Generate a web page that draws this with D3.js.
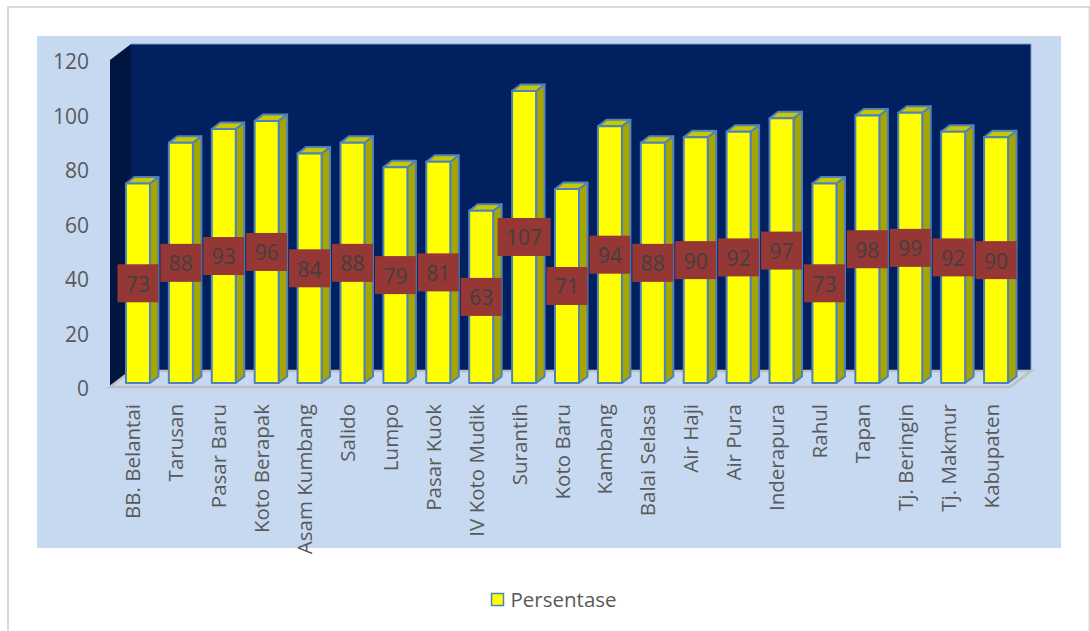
<!DOCTYPE html>
<html>
<head>
<meta charset="utf-8">
<script src="https://cdn.jsdelivr.net/npm/d3@7"></script>
<style>
  html, body { margin: 0; padding: 0; background: #fff; }
  svg { display: block; font-family: "Open Sans", sans-serif; }
</style>
</head>
<body>
<div id="chart"></div>
<script>
const categories = ["BB. Belantai", "Tarusan", "Pasar Baru", "Koto Berapak", "Asam Kumbang", "Salido", "Lumpo", "Pasar Kuok", "IV Koto Mudik", "Surantih", "Koto Baru", "Kambang", "Balai Selasa", "Air Haji", "Air Pura", "Inderapura", "Rahul", "Tapan", "Tj. Beringin", "Tj. Makmur", "Kabupaten"]
const persentase = [73, 88, 93, 96, 84, 88, 79, 81, 63, 107, 71, 94, 88, 90, 92, 97, 73, 98, 99, 92, 90]
const yTicks = [0, 20, 40, 60, 80, 100, 120]
const seriesName = "Persentase"

const width = 1090
const height = 631

// front plane of the 3d box
const plot = { left: 110, right: 1010, top: 60, bottom: 387 }
const wallDx = 21
const wallDy = -16
const barW = 24
const barDx = 8.5
const barDy = -6.5
const barLift = 4.5 // bars stand a little way back from the front plane

const svg = d3.select("#chart").append("svg")
  .attr("width", width)
  .attr("height", height)

const x = d3.scaleBand().domain(categories).range([plot.left, plot.right + 1])
const y = d3.scaleLinear().domain([0, 120]).range([plot.bottom, plot.top])

svg.append("rect")
  .attr("x", 8).attr("y", 7)
  .attr("width", 1081.5).attr("height", 640)
  .attr("fill", "#fff").attr("stroke", "#d9d9d9").attr("stroke-width", 2)

svg.append("rect")
  .attr("x", 37).attr("y", 36)
  .attr("width", 1024).attr("height", 512)
  .attr("fill", "#c6d9f1")

const line = d3.line()

// back wall, side wall, floor
svg.append("path")
  .attr("d", line([[plot.left + wallDx, y(120) + wallDy], [plot.right + wallDx, y(120) + wallDy], [plot.right + wallDx, y(0) + wallDy], [plot.left + wallDx, y(0) + wallDy]]) + "Z")
  .attr("fill", "#002060")
svg.append("path")
  .attr("d", line([[plot.left + wallDx, y(120) + wallDy], [plot.right + wallDx, y(120) + wallDy], [plot.right + wallDx, y(0) + wallDy]]))
  .attr("stroke", "#7f9ec9").attr("fill", "none")
svg.append("path")
  .attr("d", line([[plot.left, y(120)], [plot.left + wallDx, y(120) + wallDy], [plot.left + wallDx, y(0) + wallDy], [plot.left, y(0)]]) + "Z")
  .attr("fill", "#001540")
svg.append("path")
  .attr("d", line([[plot.left, y(0)], [plot.right, y(0)], [plot.right + wallDx, y(0) + wallDy], [plot.left + wallDx, y(0) + wallDy]]) + "Z")
  .attr("fill", "#c6d9f1").attr("stroke", "#bfbfbf").attr("stroke-width", 2.5)

svg.append("g").selectAll("text")
  .data(yTicks)
  .enter().append("text")
  .attr("x", 89)
  .attr("y", d => y(d) + 1.5)
  .attr("dy", "0.38em")
  .attr("text-anchor", "end")
  .attr("font-size", "21px")
  .attr("fill", "#595959")
  .text(d => d)

const barMid = d => x(d) + x.bandwidth() / 2 + 6.5
const barLeft = d => barMid(d) - barW / 2
const baseY = y(0) - 4
const barTop = v => y(v) - barLift

const bars = svg.append("g").selectAll("g")
  .data(categories)
  .enter().append("g")
  .attr("stroke", "#4f81bd")
  .attr("stroke-width", 2)
  .attr("stroke-linejoin", "round")

bars.append("path")
  .attr("fill", "#a6a600")
  .attr("d", (d, i) => {
    const l = barLeft(d) + barW, t = barTop(persentase[i])
    return line([[l, t], [l + barDx, t + barDy], [l + barDx, baseY + barDy], [l, baseY]]) + "Z"
  })
bars.append("path")
  .attr("fill", "#c8c800")
  .attr("d", (d, i) => {
    const l = barLeft(d), t = barTop(persentase[i])
    return line([[l, t], [l + barDx, t + barDy], [l + barW + barDx, t + barDy], [l + barW, t]]) + "Z"
  })
bars.append("rect")
  .attr("fill", "#ffff00")
  .attr("x", d => barLeft(d))
  .attr("y", (d, i) => barTop(persentase[i]))
  .attr("width", barW)
  .attr("height", (d, i) => baseY - barTop(persentase[i]))

// data labels sit half way up the bar
const labelY = v => (baseY + barTop(v)) / 2
const labelW = v => v >= 100 ? 53 : 41
const labels = svg.append("g").selectAll("g")
  .data(categories)
  .enter().append("g")
  .attr("transform", (d, i) => `translate(${barMid(d)}, ${labelY(persentase[i])})`)

labels.append("rect")
  .attr("x", (d, i) => -labelW(persentase[i]) / 2).attr("y", -19)
  .attr("width", (d, i) => labelW(persentase[i])).attr("height", 38)
  .attr("fill", "#953735")
labels.append("text")
  .attr("text-anchor", "middle")
  .attr("dy", "0.4em")
  .attr("font-size", "21px")
  .attr("fill", "#404040")
  .text((d, i) => persentase[i])

svg.append("g").selectAll("text")
  .data(categories)
  .enter().append("text")
  .attr("transform", d => `translate(${x(d) + x.bandwidth() / 2 + 9}, 404) rotate(-90)`)
  .attr("text-anchor", "end")
  .attr("font-size", "20.5px")
  .attr("fill", "#595959")
  .text(d => d)

// legend
svg.append("rect")
  .attr("x", 491.5).attr("y", 593.5)
  .attr("width", 12).attr("height", 12)
  .attr("fill", "#ffff00").attr("stroke", "#4f81bd").attr("stroke-width", 1.5)
svg.append("text")
  .attr("x", 510.5).attr("y", 607)
  .attr("font-size", "20.5px")
  .attr("fill", "#595959")
  .text(seriesName)
</script>
</body>
</html>
